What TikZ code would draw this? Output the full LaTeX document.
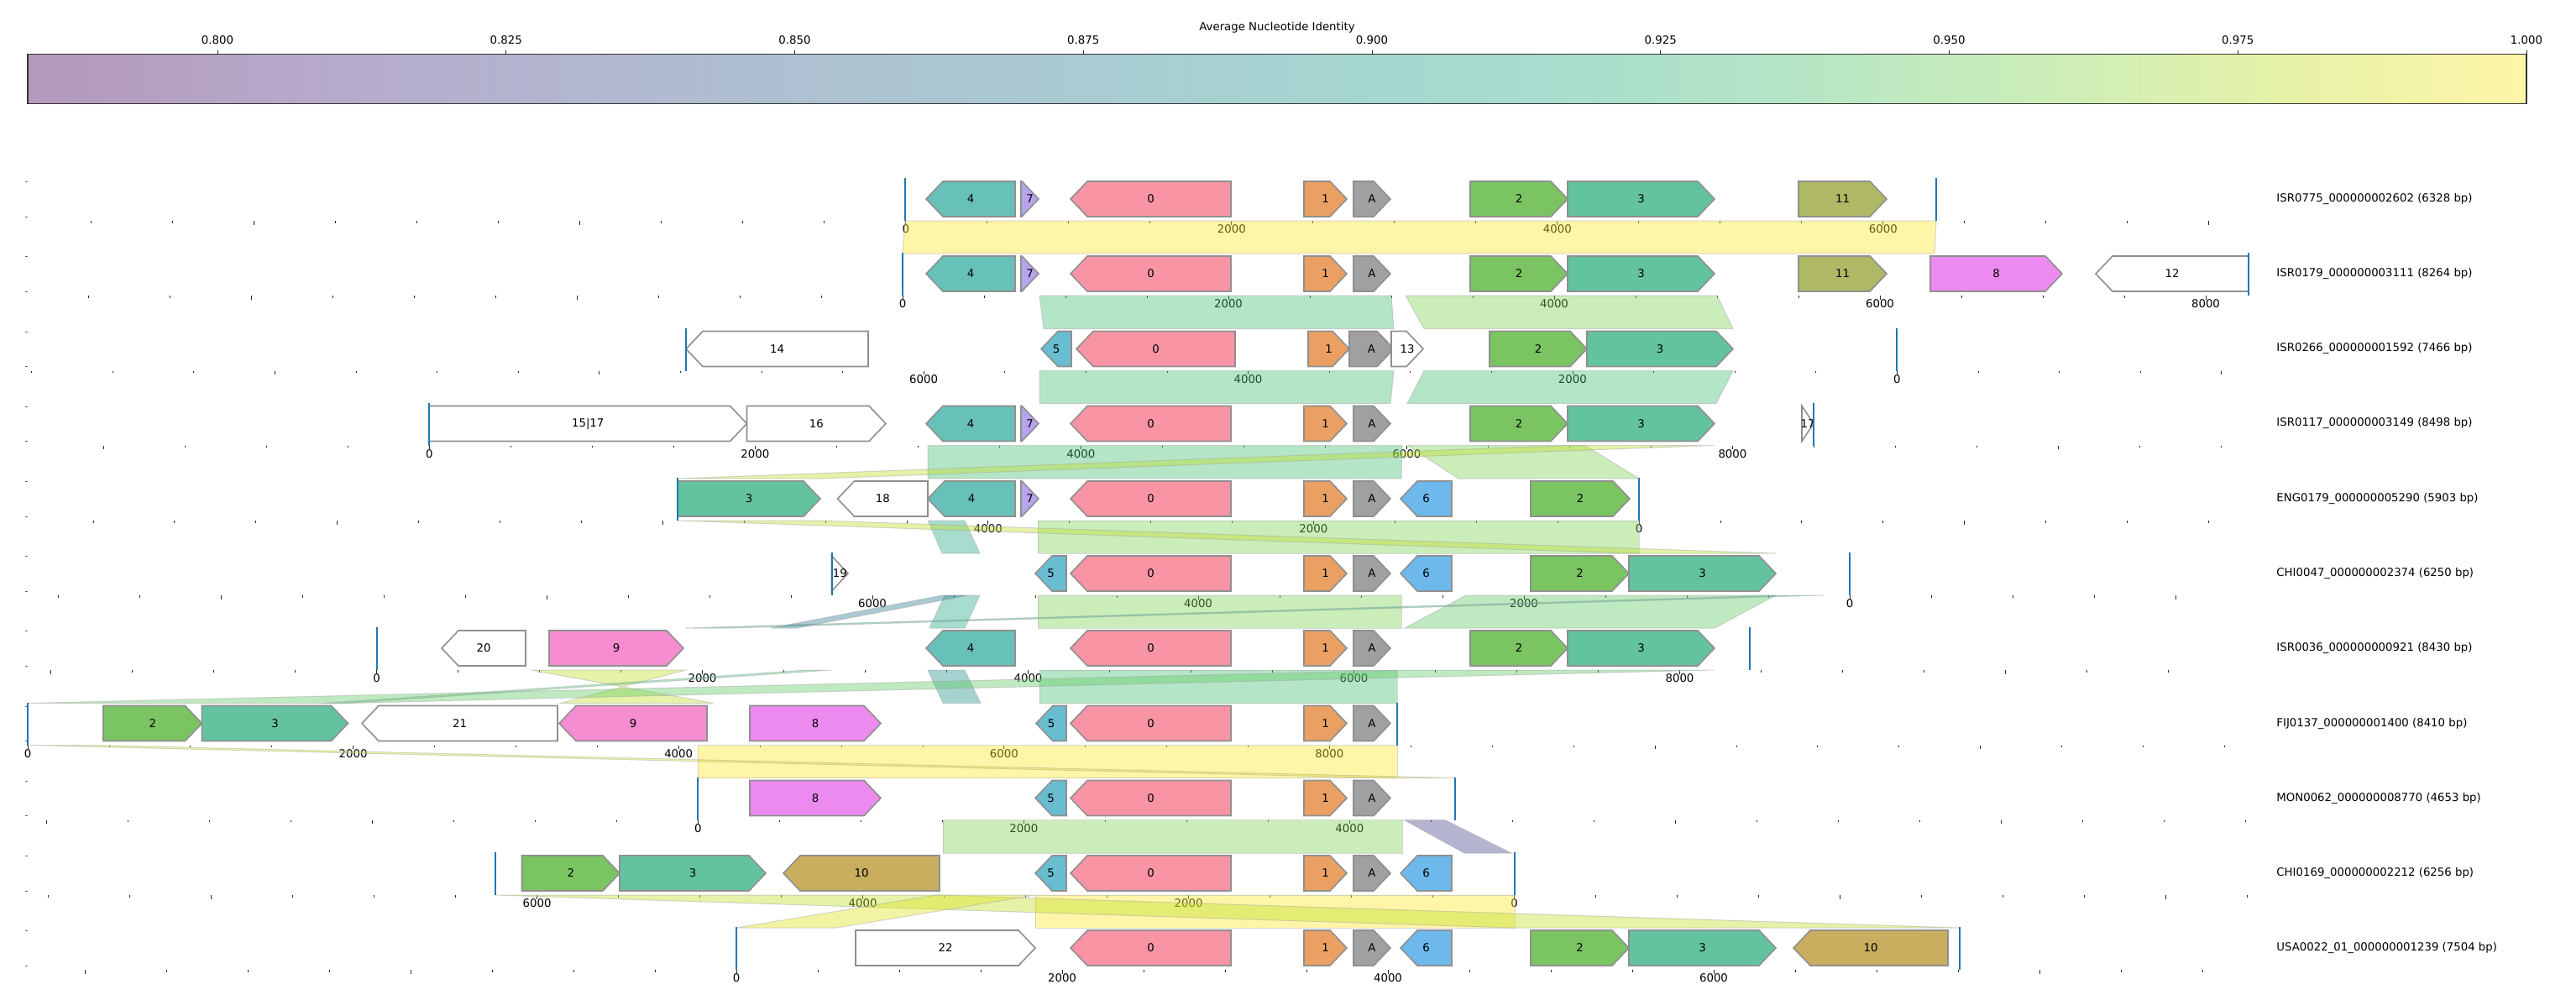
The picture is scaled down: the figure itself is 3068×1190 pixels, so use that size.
\documentclass[tikz,border=0pt]{standalone}
\usepackage{fontspec}
\setmainfont{DejaVu Sans}

\definecolor{cb0}{RGB}{180,153,187}
\definecolor{cb1}{RGB}{182,167,200}
\definecolor{cb2}{RGB}{179,180,207}
\definecolor{cb3}{RGB}{174,191,209}
\definecolor{cb4}{RGB}{170,201,210}
\definecolor{cb5}{RGB}{166,211,209}
\definecolor{cb6}{RGB}{167,220,206}
\definecolor{cb7}{RGB}{180,229,198}
\definecolor{cb8}{RGB}{202,237,185}
\definecolor{cb9}{RGB}{229,242,168}
\definecolor{cb10}{RGB}{254,245,168}
\pgfdeclarehorizontalshading{anibar}{100bp}{color(0bp)=(cb0); color(25bp)=(cb0); color(30bp)=(cb1); color(35bp)=(cb2); color(40bp)=(cb3); color(45bp)=(cb4); color(50bp)=(cb5); color(55bp)=(cb6); color(60bp)=(cb7); color(65bp)=(cb8); color(70bp)=(cb9); color(75bp)=(cb10); color(100bp)=(cb10)}

\definecolor{v20}{HTML}{414487}
\definecolor{v40}{HTML}{2A788E}
\definecolor{v50}{HTML}{21918C}
\definecolor{v60}{HTML}{22A884}
\definecolor{v70}{HTML}{44BF70}
\definecolor{v75}{HTML}{5EC962}
\definecolor{v80}{HTML}{7AD151}
\definecolor{v90}{HTML}{BDDF26}
\definecolor{v95}{HTML}{DFE318}
\definecolor{v100}{HTML}{FDE725}

\definecolor{gn0}{HTML}{F894A4}
\definecolor{gn1}{HTML}{E9A062}
\definecolor{gnA}{HTML}{A0A0A0}
\definecolor{gn2}{HTML}{7AC462}
\definecolor{gn3}{HTML}{64C39F}
\definecolor{gn4}{HTML}{68C1B9}
\definecolor{gn5}{HTML}{68BDD0}
\definecolor{gn6}{HTML}{6DB9EC}
\definecolor{gn7}{HTML}{B7A3EF}
\definecolor{gn8}{HTML}{EC8AF0}
\definecolor{gn9}{HTML}{F58DD0}
\definecolor{gn10}{HTML}{C9AE60}
\definecolor{gn11}{HTML}{AFB865}
\definecolor{genedge}{HTML}{8F8F8F}
\definecolor{seqblue}{HTML}{1F77B4}

\tikzset{
  gene/.style={draw=genedge, line width=0.8pt},
  genelabel/.style={inner sep=0pt, font=\fontsize{6.65}{8}\selectfont},
  ticklabel/.style={inner sep=0pt, font=\fontsize{6.65}{8}\selectfont},
  tracklabel/.style={anchor=west, inner sep=0pt, font=\fontsize{6.65}{8}\selectfont},
  link/.style={fill=#1, fill opacity=0.4, draw=gray!70, draw opacity=0.45, line width=0.5pt},
  tick/.style={draw=black!85, line width=0.4pt},
  seqend/.style={draw=seqblue, line width=1pt},
}

\newcommand{\fgene}[6]{%
  \pgfmathsetmacro{\gx}{max(#2,#3-20)}%
  \draw[gene, fill=#5] (#2,#4-21) -- (\gx,#4-21) -- (#3,#4) -- (\gx,#4+21) -- (#2,#4+21) -- cycle;
  \node[genelabel] (#1) at ({(#2+#3)/2},#4) {#6};
}
\newcommand{\rgene}[6]{%
  \pgfmathsetmacro{\gx}{min(#3,#2+20)}%
  \draw[gene, fill=#5] (#3,#4-21) -- (\gx,#4-21) -- (#2,#4) -- (\gx,#4+21) -- (#3,#4+21) -- cycle;
  \node[genelabel] (#1) at ({(#2+#3)/2},#4) {#6};
}
\newcommand{\bpaxis}[6]{%
  \draw[tick, draw=black!60] (29.5,#1-20.5) -- (32.5,#1-20.5);
  \draw[tick, draw=black!60] (29.5,#1+21) -- (32.5,#1+21);
  \foreach \j in {-30,...,30}{%
    \pgfmathsetmacro{\tx}{#2+(\j)*#4}%
    \ifdim \tx pt>32pt\relax
      \ifdim \tx pt<2678pt\relax
        \pgfmathsetmacro{\tl}{mod(\j,4)==0 ? 4.5 : 2.5}%
        \draw[tick] (\tx,#1+26) -- ++(0,\tl);
      \fi
    \fi}
  \foreach \k in {0,...,4}{%
    \pgfmathtruncatemacro{\bp}{2000*\k}%
    \ifnum\bp<#5\relax
      \node[ticklabel] (#6-\k) at ({#2+(#3)*\k*4*#4},#1+36) {\bp};
    \fi}
}

\begin{document}
\begin{tikzpicture}[x=0.5pt, y=-0.5pt]
    \useasboundingbox (0,0) rectangle (3068,1190);

    \shade[shading=anibar] (33,64.5) rectangle (3009,123.5);
    \draw[black!80, line width=0.8pt] (33,64.5) rectangle (3009,123.5);
    \node[ticklabel] (title) at (1521,33) {Average Nucleotide Identity};
    \foreach \v [count=\i from 0] in {0.800,0.825,0.850,0.875,0.900,0.925,0.950,0.975,1.000}{
        \draw[tick] (259+\i*343.75,64.5) -- ++(0,-4.5);
        \node[ticklabel] (ani\i) at (259+\i*343.75,48) {\v};
    }

    \bpaxis{237}{1078.8}{1}{97.0}{6328}{ax0}
    \bpaxis{326}{1075}{1}{97.0}{8264}{ax1}
    \bpaxis{415.5}{2259.3}{-1}{96.6}{7466}{ax2}
    \bpaxis{504.5}{511.4}{1}{97.0}{8498}{ax3}
    \bpaxis{594}{1952}{-1}{96.9}{5903}{ax4}
    \bpaxis{683}{2203}{-1}{97.0}{6250}{ax5}
    \bpaxis{772}{448.5}{1}{97.0}{8430}{ax6}
    \bpaxis{861.5}{33}{1}{96.9}{8410}{ax7}
    \bpaxis{950.5}{831.3}{1}{97.0}{4653}{ax8}
    \bpaxis{1040}{1803.6}{-1}{97.0}{6256}{ax9}
    \bpaxis{1129}{877}{1}{97.0}{7504}{ax10}

    \draw[link=v100] (1078,263) -- (2306,263) -- (2304,302) -- (1075,302) -- cycle;

    \draw[link=v70] (1238,352) -- (1657,352) -- (1660,391.5) -- (1243,391.5) -- cycle;
    \draw[link=v80] (1674,352) -- (2045,352) -- (2064,391.5) -- (1696,391.5) -- cycle;

    \draw[link=v70] (1238,441.5) -- (1660,441.5) -- (1656,480.5) -- (1238,480.5) -- cycle;
    \draw[link=v70] (1696,441.5) -- (2064,441.5) -- (2044,480.5) -- (1676,480.5) -- cycle;

    \draw[link=v70] (1105,530.5) -- (1670,530.5) -- (1669,570) -- (1105,570) -- cycle;
    \draw[link=v80] (1676,530.5) -- (1888,530.5) -- (1952,570) -- (1737,570) -- cycle;
    \draw[link=v90] (1867,530.5) -- (2041,530.5) -- (977,570) -- (807,570) -- cycle;

    \draw[link=v80] (1236,620) -- (1952,620) -- (1952,659) -- (1236,659) -- cycle;
    \draw[link=v60] (1105,620) -- (1149,620) -- (1167,659) -- (1122,659) -- cycle;
    \draw[link=v90] (807,620) -- (977,620) -- (2115,659) -- (1940,659) -- cycle;

    \draw[link=v80] (1236,709) -- (1669,709) -- (1669,748) -- (1236,748) -- cycle;
    \draw[link=v75] (1746,709) -- (2115,709) -- (2042,748) -- (1673,748) -- cycle;
    \draw[link=v60] (1125,709) -- (1167,709) -- (1149,748) -- (1107,748) -- cycle;
    \draw[link=v60] (2115,709) -- (2171,709) -- (870,748) -- (817,748) -- cycle;
    \draw[link=v40] (1122,709) -- (1154,709) -- (949,748) -- (918,748) -- cycle;

    \draw[link=v70] (1238,798) -- (1664,798) -- (1664,837.5) -- (1238,837.5) -- cycle;
    \draw[link=v50] (1105,798) -- (1149,798) -- (1168,837.5) -- (1123,837.5) -- cycle;
    \draw[link=v90] (632,798) -- (817,798) -- (667,837.5) -- (850,837.5) -- cycle;
    \draw[link=v75] (1680,798) -- (2042,798) -- (414,837.5) -- (33,837.5) -- cycle;
    \draw[link=v70] (960,798) -- (990,798) -- (414,837.5) -- (384,837.5) -- cycle;

    \draw[link=v100] (831,887.5) -- (1664,887.5) -- (1664,926.5) -- (831,926.5) -- cycle;
    \draw[link=v95] (33,887.5) -- (115,887.5) -- (1733,926.5) -- (1651,926.5) -- cycle;

    \draw[link=v80] (1123,976.5) -- (1670,976.5) -- (1670,1016) -- (1123,1016) -- cycle;
    \draw[link=v20] (1672,976.5) -- (1721,976.5) -- (1800,1016) -- (1744,1016) -- cycle;

    \draw[link=v100] (1233,1066) -- (1804,1066) -- (1804,1105) -- (1233,1105) -- cycle;
    \draw[link=v90] (590,1066) -- (1119,1066) -- (2334,1105) -- (1800,1105) -- cycle;
    \draw[link=v95] (1115,1066) -- (1233,1066) -- (996,1105) -- (877,1105) -- cycle;

    \rgene{a4}{1103}{1209}{237}{gn4}{4}
    \fgene{a7}{1216}{1237}{237}{gn7}{7}
    \rgene{a0}{1275}{1466}{237}{gn0}{0}
    \fgene{a1}{1553}{1604}{237}{gn1}{1}
    \fgene{aA}{1612}{1656}{237}{gnA}{A}
    \fgene{a2}{1751}{1867}{237}{gn2}{2}
    \fgene{a3}{1867}{2042}{237}{gn3}{3}
    \fgene{a11}{2142}{2247}{237}{gn11}{11}

    \rgene{b4}{1103}{1209}{326}{gn4}{4}
    \fgene{b7}{1216}{1237}{326}{gn7}{7}
    \rgene{b0}{1275}{1466}{326}{gn0}{0}
    \fgene{b1}{1553}{1604}{326}{gn1}{1}
    \fgene{bA}{1612}{1656}{326}{gnA}{A}
    \fgene{b2}{1751}{1867}{326}{gn2}{2}
    \fgene{b3}{1867}{2042}{326}{gn3}{3}
    \fgene{b11}{2142}{2247}{326}{gn11}{11}
    \fgene{b8}{2299}{2456}{326}{gn8}{8}
    \rgene{b12}{2496}{2678}{326}{white}{12}

    \rgene{c14}{817}{1034}{415.5}{white}{14}
    \rgene{c5}{1240}{1276}{415.5}{gn5}{5}
    \rgene{c0}{1282}{1471}{415.5}{gn0}{0}
    \fgene{c1}{1558}{1607}{415.5}{gn1}{1}
    \fgene{cA}{1607}{1660}{415.5}{gnA}{A}
    \fgene{c13}{1657}{1695}{415.5}{white}{13}
    \fgene{c2}{1774}{1890}{415.5}{gn2}{2}
    \fgene{c3}{1890}{2064}{415.5}{gn3}{3}

    \fgene{d15}{511}{889.5}{504.5}{white}{15|17}
    \fgene{d16}{889.5}{1055}{504.5}{white}{16}
    \rgene{d4}{1103}{1209}{504.5}{gn4}{4}
    \fgene{d7}{1216}{1237}{504.5}{gn7}{7}
    \rgene{d0}{1275}{1466}{504.5}{gn0}{0}
    \fgene{d1}{1553}{1604}{504.5}{gn1}{1}
    \fgene{dA}{1612}{1656}{504.5}{gnA}{A}
    \fgene{d2}{1751}{1867}{504.5}{gn2}{2}
    \fgene{d3}{1867}{2042}{504.5}{gn3}{3}
    \fgene{d17}{2146}{2160}{504.5}{white}{17}

    \fgene{e3}{807}{977}{594}{gn3}{3}
    \rgene{e18}{997.5}{1105}{594}{white}{18}
    \rgene{e4}{1105}{1209}{594}{gn4}{4}
    \fgene{e7}{1216}{1237}{594}{gn7}{7}
    \rgene{e0}{1275}{1466}{594}{gn0}{0}
    \fgene{e1}{1553}{1604}{594}{gn1}{1}
    \fgene{eA}{1612}{1656}{594}{gnA}{A}
    \rgene{e6}{1668}{1729}{594}{gn6}{6}
    \fgene{e2}{1823}{1941}{594}{gn2}{2}

    \fgene{f19}{990.5}{1010}{683}{white}{19}
    \rgene{f5}{1233}{1270}{683}{gn5}{5}
    \rgene{f0}{1275}{1466}{683}{gn0}{0}
    \fgene{f1}{1553}{1604}{683}{gn1}{1}
    \fgene{fA}{1612}{1656}{683}{gnA}{A}
    \rgene{f6}{1668}{1729}{683}{gn6}{6}
    \fgene{f2}{1823}{1940}{683}{gn2}{2}
    \fgene{f3}{1940}{2115}{683}{gn3}{3}

    \rgene{g20}{526}{626}{772}{white}{20}
    \fgene{g9}{654}{814}{772}{gn9}{9}
    \rgene{g4}{1103}{1209}{772}{gn4}{4}
    \rgene{g0}{1275}{1466}{772}{gn0}{0}
    \fgene{g1}{1553}{1604}{772}{gn1}{1}
    \fgene{gA}{1612}{1656}{772}{gnA}{A}
    \fgene{g2}{1751}{1867}{772}{gn2}{2}
    \fgene{g3}{1867}{2042}{772}{gn3}{3}

    \fgene{h2}{123}{240.5}{861.5}{gn2}{2}
    \fgene{h3}{240.5}{414.5}{861.5}{gn3}{3}
    \rgene{h21}{431}{664}{861.5}{white}{21}
    \rgene{h9}{666}{842}{861.5}{gn9}{9}
    \fgene{h8}{893}{1049}{861.5}{gn8}{8}
    \rgene{h5}{1234}{1270}{861.5}{gn5}{5}
    \rgene{h0}{1275}{1466}{861.5}{gn0}{0}
    \fgene{h1}{1553}{1604}{861.5}{gn1}{1}
    \fgene{hA}{1612}{1656}{861.5}{gnA}{A}

    \fgene{i8}{893}{1049}{950.5}{gn8}{8}
    \rgene{i5}{1233}{1270}{950.5}{gn5}{5}
    \rgene{i0}{1275}{1466}{950.5}{gn0}{0}
    \fgene{i1}{1553}{1604}{950.5}{gn1}{1}
    \fgene{iA}{1612}{1656}{950.5}{gnA}{A}

    \fgene{j2}{621.5}{738}{1040}{gn2}{2}
    \fgene{j3}{738}{912}{1040}{gn3}{3}
    \rgene{j10}{933}{1119}{1040}{gn10}{10}
    \rgene{j5}{1233}{1270}{1040}{gn5}{5}
    \rgene{j0}{1275}{1466}{1040}{gn0}{0}
    \fgene{j1}{1553}{1604}{1040}{gn1}{1}
    \fgene{jA}{1612}{1656}{1040}{gnA}{A}
    \rgene{j6}{1668}{1729}{1040}{gn6}{6}

    \fgene{k22}{1019}{1233}{1129}{white}{22}
    \rgene{k0}{1275}{1466}{1129}{gn0}{0}
    \fgene{k1}{1553}{1604}{1129}{gn1}{1}
    \fgene{kA}{1612}{1656}{1129}{gnA}{A}
    \rgene{k6}{1668}{1729}{1129}{gn6}{6}
    \fgene{k2}{1823}{1940}{1129}{gn2}{2}
    \fgene{k3}{1940}{2115}{1129}{gn3}{3}
    \rgene{k10}{2136}{2320}{1129}{gn10}{10}

    \foreach \y/\xa/\xb in {237/1078/2306, 326/1075/2678, 415.5/817/2259, 504.5/511/2160, 594/807/1952, 683/990.5/2203, 772/448.5/2083.5, 861.5/33/1664, 950.5/831/1733, 1040/590/1804, 1129/877/2334}{
        \draw[seqend] (\xa,\y-25) -- (\xa,\y+26);
        \draw[seqend] (\xb,\y-25) -- (\xb,\y+26);
    }

    \node[tracklabel] (t0) at (2711,237) {ISR0775\_000000002602 (6328 bp)};
    \node[tracklabel] (t1) at (2711,326) {ISR0179\_000000003111 (8264 bp)};
    \node[tracklabel] (t2) at (2711,415.5) {ISR0266\_000000001592 (7466 bp)};
    \node[tracklabel] (t3) at (2711,504.5) {ISR0117\_000000003149 (8498 bp)};
    \node[tracklabel] (t4) at (2711,594) {ENG0179\_000000005290 (5903 bp)};
    \node[tracklabel] (t5) at (2711,683) {CHI0047\_000000002374 (6250 bp)};
    \node[tracklabel] (t6) at (2711,772) {ISR0036\_000000000921 (8430 bp)};
    \node[tracklabel] (t7) at (2711,861.5) {FIJ0137\_000000001400 (8410 bp)};
    \node[tracklabel] (t8) at (2711,950.5) {MON0062\_000000008770 (4653 bp)};
    \node[tracklabel] (t9) at (2711,1040) {CHI0169\_000000002212 (6256 bp)};
    \node[tracklabel] (t10) at (2711,1129) {USA0022\_01\_000000001239 (7504 bp)};
\end{tikzpicture}
\end{document}
